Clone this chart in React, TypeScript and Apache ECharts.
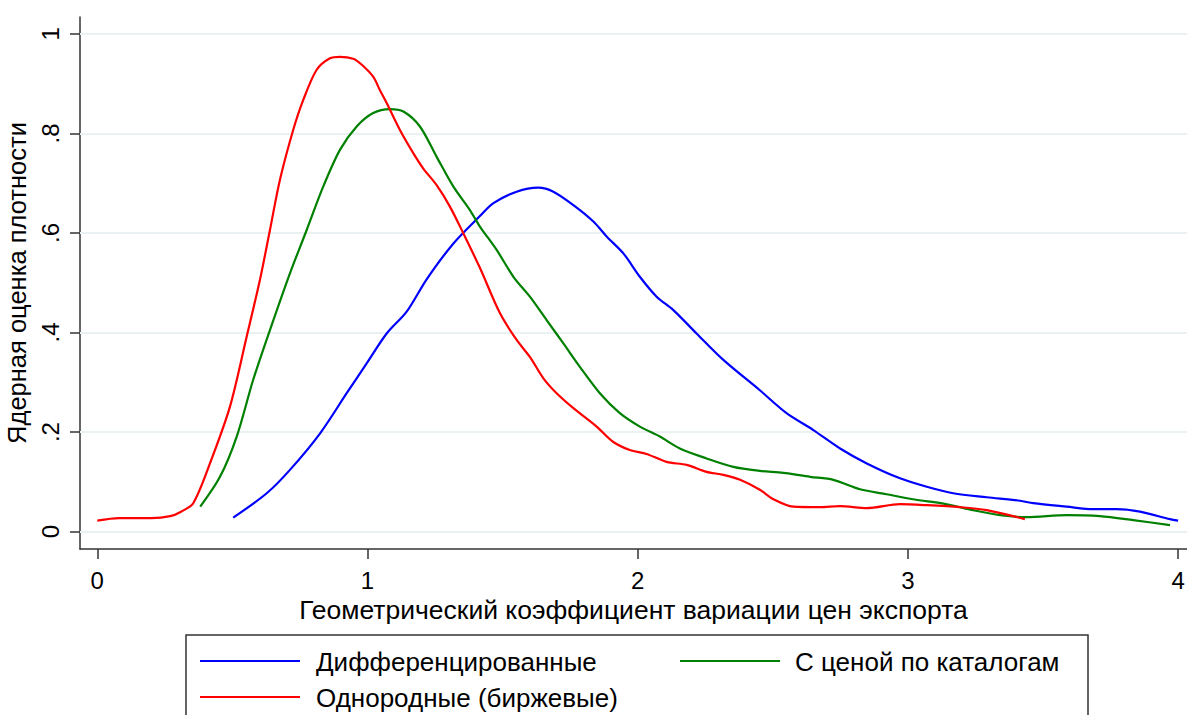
import React, { useEffect, useRef } from 'react';
import * as echarts from 'echarts';

const xTicks = [0, 1, 2, 3, 4];
const xTickLabels = ['0', '1', '2', '3', '4'];
const yTicks = [0, 0.2, 0.4, 0.6, 0.8, 1];
const yTickLabels = ['0', '.2', '.4', '.6', '.8', '1'];

const xTitle = 'Геометрический коэффициент вариации цен экспорта';
const yTitle = 'Ядерная оценка плотности';

const seriesNames = ['Дифференцированные', 'С ценой по каталогам', 'Однородные (биржевые)'];
const seriesColors = ['#0000ff', '#008000', '#ff0000'];

const differentiated: [number, number][] = [
  [0.503, 0.028], [0.627, 0.077], [0.713, 0.124], [0.824, 0.197], [0.923, 0.278], [0.997, 0.338],
  [1.071, 0.398], [1.145, 0.442], [1.219, 0.507], [1.318, 0.579], [1.416, 0.634], [1.466, 0.660],
  [1.552, 0.683], [1.632, 0.691], [1.688, 0.683], [1.762, 0.656], [1.836, 0.623], [1.885, 0.593],
  [1.947, 0.559], [2.008, 0.512], [2.070, 0.472], [2.132, 0.445], [2.218, 0.398], [2.317, 0.345],
  [2.452, 0.284], [2.551, 0.238], [2.650, 0.204], [2.749, 0.167], [2.848, 0.137], [2.971, 0.107],
  [3.070, 0.090], [3.168, 0.077], [3.292, 0.069], [3.415, 0.062], [3.464, 0.057], [3.588, 0.050],
  [3.686, 0.045], [3.773, 0.045], [3.859, 0.040], [3.970, 0.025], [4.0, 0.022],
];

const catalog: [number, number][] = [
  [0.381, 0.050], [0.454, 0.110], [0.516, 0.191], [0.577, 0.305], [0.639, 0.405], [0.713, 0.519],
  [0.775, 0.606], [0.836, 0.693], [0.898, 0.767], [0.960, 0.814], [1.021, 0.841], [1.083, 0.849],
  [1.133, 0.844], [1.194, 0.814], [1.256, 0.753], [1.318, 0.693], [1.379, 0.646], [1.416, 0.613],
  [1.478, 0.566], [1.540, 0.512], [1.601, 0.472], [1.663, 0.425], [1.725, 0.378], [1.786, 0.331],
  [1.860, 0.278], [1.934, 0.238], [2.008, 0.211], [2.082, 0.191], [2.156, 0.167], [2.255, 0.147],
  [2.354, 0.130], [2.452, 0.122], [2.539, 0.118], [2.638, 0.110], [2.724, 0.104], [2.823, 0.085],
  [2.921, 0.075], [3.020, 0.065], [3.144, 0.055], [3.242, 0.043], [3.341, 0.033], [3.44, 0.029],
  [3.588, 0.033], [3.711, 0.031], [3.834, 0.023], [3.97, 0.013],
];

const homogeneous: [number, number][] = [
  [0, 0.022], [0.08, 0.027], [0.2, 0.027], [0.27, 0.031], [0.31, 0.040], [0.355, 0.057],
  [0.417, 0.137], [0.491, 0.251], [0.553, 0.392], [0.602, 0.506], [0.639, 0.606], [0.676, 0.707],
  [0.725, 0.807], [0.762, 0.867], [0.812, 0.928], [0.861, 0.951], [0.898, 0.954], [0.947, 0.950],
  [0.979, 0.938], [1.021, 0.914], [1.046, 0.887], [1.071, 0.861], [1.120, 0.807], [1.170, 0.760],
  [1.206, 0.730], [1.256, 0.696], [1.305, 0.653], [1.355, 0.599], [1.416, 0.530], [1.490, 0.439],
  [1.552, 0.385], [1.601, 0.351], [1.651, 0.308], [1.700, 0.278], [1.762, 0.248], [1.848, 0.211],
  [1.910, 0.180], [1.971, 0.164], [2.033, 0.156], [2.107, 0.140], [2.181, 0.134], [2.255, 0.120],
  [2.317, 0.114], [2.379, 0.104], [2.452, 0.084], [2.502, 0.065], [2.576, 0.050], [2.675, 0.049],
  [2.749, 0.051], [2.848, 0.047], [2.971, 0.055], [3.070, 0.053], [3.193, 0.049], [3.292, 0.043],
  [3.433, 0.025],
];

const FONT = '"Liberation Sans", Arial, sans-serif';
const AXIS_COLOR = '#333333';

function nearestLabel(v: number, ticks: number[], labels: string[]) {
  let best = 0;
  for (let i = 1; i < ticks.length; i++) {
    if (Math.abs(ticks[i] - v) < Math.abs(ticks[best] - v)) best = i;
  }
  return labels[best];
}

export default function App() {
  const ref = useRef<HTMLDivElement>(null);
  useEffect(() => {
    const chart = echarts.init(ref.current!, null, { renderer: 'svg' });
    const lineSeries = [differentiated, catalog, homogeneous].map((d, i) => ({
      type: 'line',
      name: seriesNames[i],
      data: d,
      smooth: 0.3,
      showSymbol: false,
      symbol: 'none',
      lineStyle: { color: seriesColors[i], width: 2.2 },
      itemStyle: { color: seriesColors[i] },
      z: 3,
    }));
    const legendText = (text: string, x: number, y: number) => ({
      type: 'text',
      x,
      y,
      style: { text, fontSize: 26, fill: '#000', fontFamily: FONT, verticalAlign: 'middle' },
    });
    chart.setOption({
      animation: false,
      backgroundColor: '#ffffff',
      grid: { left: 80, right: 0, top: 17, bottom: 166, containLabel: false, outerBoundsMode: 'none' },
      xAxis: {
        type: 'value',
        min: -0.064,
        max: 4.033,
        name: xTitle,
        nameLocation: 'middle',
        nameGap: 43,
        nameTextStyle: { fontSize: 26.5, color: '#000', fontFamily: FONT },
        axisLine: { show: true, onZero: false, lineStyle: { color: AXIS_COLOR, width: 1.5 } },
        axisTick: { show: true, length: 10, customValues: xTicks, lineStyle: { color: AXIS_COLOR, width: 1.5 } },
        axisLabel: {
          customValues: xTicks,
          margin: 19,
          fontSize: 24,
          color: '#000',
          fontFamily: FONT,
          formatter: (v: number) => nearestLabel(v, xTicks, xTickLabels),
        },
        splitLine: { show: false },
      },
      yAxis: {
        type: 'value',
        min: -0.035,
        max: 1.034,
        name: yTitle,
        nameLocation: 'middle',
        nameGap: 45,
        nameTextStyle: { fontSize: 25.5, color: '#000', fontFamily: FONT },
        axisLine: { show: true, onZero: false, lineStyle: { color: AXIS_COLOR, width: 1.5 } },
        axisTick: { show: true, length: 10, customValues: yTicks, lineStyle: { color: AXIS_COLOR, width: 1.5 } },
        axisLabel: {
          customValues: yTicks,
          rotate: 90,
          margin: 18,
          fontSize: 24,
          color: '#000',
          fontFamily: FONT,
          formatter: (v: number) => nearestLabel(v, yTicks, yTickLabels),
        },
        splitLine: { show: false },
      },
      series: [
        {
          type: 'line',
          data: [],
          silent: true,
          z: 1,
          markLine: {
            silent: true,
            z: 1,
            symbol: 'none',
            label: { show: false },
            lineStyle: { color: '#eaf1f3', width: 2, type: 'solid' },
            data: yTicks.map((t) => ({ yAxis: t })),
          },
        },
        ...lineSeries,
      ],
      graphic: [
        {
          type: 'rect',
          shape: { x: 186, y: 635, width: 902, height: 110 },
          style: { fill: 'none', stroke: AXIS_COLOR, lineWidth: 1.5 },
        },
        {
          type: 'line',
          shape: { x1: 200, y1: 661, x2: 300, y2: 661 },
          style: { stroke: seriesColors[0], lineWidth: 2.2 },
        },
        legendText(seriesNames[0], 316, 662),
        {
          type: 'line',
          shape: { x1: 680, y1: 661, x2: 780, y2: 661 },
          style: { stroke: seriesColors[1], lineWidth: 2.2 },
        },
        legendText(seriesNames[1], 795, 662),
        {
          type: 'line',
          shape: { x1: 200, y1: 697, x2: 300, y2: 697 },
          style: { stroke: seriesColors[2], lineWidth: 2.2 },
        },
        legendText(seriesNames[2], 316, 698),
      ],
    });
    return () => chart.dispose();
  }, []);
  return (
    <div
      ref={ref}
      style={{ position: 'absolute', left: 0, top: 0, width: 1187, height: 715, background: '#fff' }}
    />
  );
}
